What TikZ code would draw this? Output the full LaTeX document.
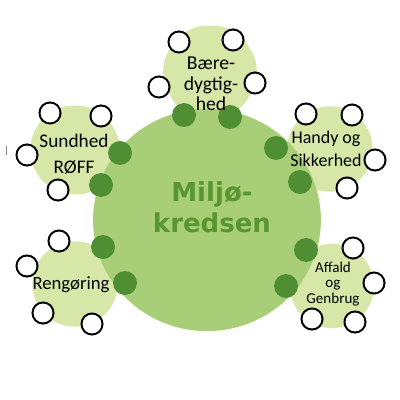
\documentclass[tikz,border=0pt]{standalone}
\usepackage{fontspec}
\setmainfont{Carlito}
\newfontfamily\hubfont{DejaVu Sans}
\usetikzlibrary{shapes.geometric}
\definecolor{hubgreen}{RGB}{168,207,120}
\definecolor{topicgreen}{RGB}{214,231,168}
\definecolor{linkgreen}{RGB}{80,142,52}
\definecolor{hubtext}{RGB}{88,150,50}

\begin{document}
\begin{tikzpicture}[x=0.025cm,y=-0.025cm,
	topic/.style={regular polygon,regular polygon sides=6,fill=topicgreen,rounded corners=16pt,inner sep=0pt},
	hub/.style={ellipse,fill=hubgreen,minimum width=162pt,minimum height=158pt,inner sep=0pt},
	seat/.style={circle,draw=black,line width=1.4pt,fill=white,minimum size=15pt,inner sep=0pt},
	link/.style={circle,fill=linkgreen,minimum size=17pt,inner sep=0pt},
	topic text/.style={align=center,text=black,inner sep=0pt}]
		\useasboundingbox (0,0) rectangle (400,400);
		% emner
		\node[topic,minimum size=76pt] (b) at (210,72) {};
		\node[topic,minimum size=73pt] (s) at (75,150) {};
		\node[topic,minimum size=70pt] (h) at (330,149) {};
		\node[topic,minimum size=70pt] (r) at (75,284) {};
		\node[topic,minimum size=69pt] (a) at (332,286) {};
		% kredsen
		\node[hub] (k) at (207,220) {};
		\node[topic text,text=hubtext,font=\hubfont\bfseries\fontsize{18.5pt}{22pt}\selectfont] (kt) at (212,207) {Milj\o-\\kredsen};
		% forbindelser
		\node[link] (b1) at (184,115) {};
		\node[link] (b2) at (230,117) {};
		\node[link] (s1) at (120,153) {};
		\node[link] (s2) at (101,185) {};
		\node[link] (h1) at (276,148) {};
		\node[link] (h2) at (300,182) {};
		\node[link] (r1) at (103,247) {};
		\node[link] (r2) at (125,283) {};
		\node[link] (a1) at (306,250) {};
		\node[link] (a2) at (286,286) {};
		% pladser
		\node[seat] (b3) at (179,42) {};
		\node[seat] (b4) at (233,40) {};
		\node[seat] (b5) at (159,87) {};
		\node[seat] (b6) at (255,83) {};
		\node[seat] (s3) at (50,113) {};
		\node[seat] (s4) at (101,116) {};
		\node[seat] (s5) at (27,155) {};
		\node[seat] (s6) at (58,190) {};
		\node[seat] (h3) at (306,114) {};
		\node[seat] (h4) at (352,115) {};
		\node[seat] (h5) at (375,160) {};
		\node[seat] (h6) at (347,188) {};
		\node[seat] (r3) at (59,241) {};
		\node[seat] (r4) at (27,266) {};
		\node[seat] (r5) at (43,313) {};
		\node[seat] (r6) at (92,324) {};
		\node[seat] (a3) at (353,248) {};
		\node[seat] (a4) at (374,283) {};
		\node[seat] (a5) at (312,319) {};
		\node[seat] (a6) at (355,322) {};
		% tekster
		\node[topic text,font=\fontsize{14pt}{14.6pt}\selectfont] (bt) at (211,84) {B\ae re-\\dygtig-\\hed};
		\node[topic text,font=\fontsize{13.7pt}{18.4pt}\selectfont] (st) at (74,154) {Sundhed\\R\O FF};
		\node[topic text,font=\fontsize{12.8pt}{16.3pt}\selectfont] (ht) at (326,149) {Handy og\\Sikkerhed};
		\node[topic text,font=\fontsize{13.3pt}{16pt}\selectfont] (rt) at (71,285) {Reng\o ring};
		\node[topic text,font=\fontsize{10.7pt}{10.8pt}\selectfont] (at) at (333,284) {Affald\\og\\Genbrug};
		\draw[gray,line width=0.6pt] (6,146) -- (6,155);
\end{tikzpicture}
\end{document}
